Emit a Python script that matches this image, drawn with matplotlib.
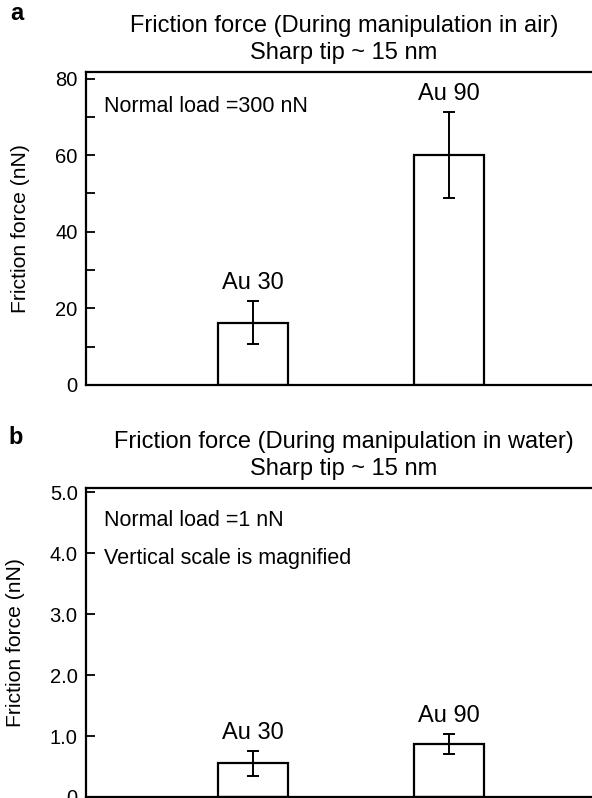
import numpy as np
import matplotlib.pyplot as plt
from matplotlib.ticker import MultipleLocator, FuncFormatter

plt.rcParams['font.family'] = ['Liberation Sans', 'DejaVu Sans']

samples = ['Au 30', 'Au 90']

# panel a: in air
air_force = [16.3, 60.0]
air_err = [5.6, 11.2]

# panel b: in water
water_force = [0.55, 0.865]
water_err = [0.2, 0.165]

positions = np.array([1, 2])


def draw_panel(ax, values, errs, title):
    ax.bar(positions, values, width=0.355, facecolor='white', edgecolor='black',
           linewidth=1.6, zorder=2)
    ax.errorbar(positions, values, yerr=errs, fmt='none', ecolor='black',
                elinewidth=1.4, capsize=4, capthick=1.4, zorder=3)
    for x, v, e, name in zip(positions, values, errs, samples):
        ax.annotate(name, (x, v + e), xytext=(0, 5), textcoords='offset points',
                    ha='center', va='bottom', fontsize=17)
    ax.set_xlim(0.148, 2.78)
    ax.set_xticks([])
    for s in ['left', 'top', 'bottom', 'right']:
        ax.spines[s].set_linewidth(1.6)
    ax.tick_params(axis='y', which='both', direction='in', length=6.5, width=1.3,
                   labelsize=14.5, pad=6)
    ax.set_ylabel('Friction force (nN)', fontsize=15.2, labelpad=18)
    ax.set_title(title, fontsize=17, pad=9, linespacing=1.35)


fig = plt.figure(figsize=(5.92, 7.98), dpi=100)

ax1 = fig.add_axes([86 / 592, 1 - 385 / 798, 516 / 592, 313 / 798])
draw_panel(ax1, air_force, air_err,
           'Friction force (During manipulation in air)\nSharp tip ~ 15 nm')
ax1.set_ylim(0, 81.7)
ax1.yaxis.set_major_locator(MultipleLocator(20))
ax1.yaxis.set_minor_locator(MultipleLocator(10))
ax1.text(0.035, 0.89, 'Normal load =300 nN', transform=ax1.transAxes,
         fontsize=15.5, va='center')

ax2 = fig.add_axes([86 / 592, 1 - 797 / 798, 516 / 592, 309 / 798])
draw_panel(ax2, water_force, water_err,
           'Friction force (During manipulation in water)\nSharp tip ~ 15 nm')
ax2.set_ylim(0, 5.07)
ax2.yaxis.set_major_locator(MultipleLocator(1))
ax2.yaxis.set_major_formatter(FuncFormatter(lambda v, p: '0' if v == 0 else f'{v:.1f}'))
ax2.text(0.035, 0.895, 'Normal load =1 nN', transform=ax2.transAxes,
         fontsize=15.5, va='center')
ax2.text(0.035, 0.772, 'Vertical scale is magnified', transform=ax2.transAxes,
         fontsize=15.5, va='center')

fig.text(17 / 592, 1 - 14 / 798, 'a', fontsize=17, fontweight='bold',
         ha='center', va='center')
fig.text(16 / 592, 1 - 438 / 798, 'b', fontsize=17, fontweight='bold',
         ha='center', va='center')

fig.savefig('out.png', dpi=100)
